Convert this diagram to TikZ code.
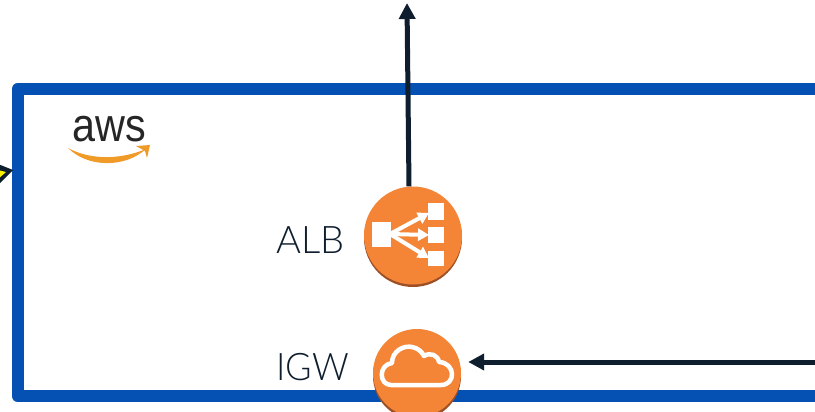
\documentclass[tikz,border=0pt]{standalone}
\usepackage{fontspec}
\setmainfont{Lato}[UprightFont=* Light]
\newfontfamily\logofont{Liberation Sans}
\usetikzlibrary{arrows.meta}
\definecolor{awsblue}{HTML}{0451B3}
\definecolor{awsnavy}{HTML}{0F1E2E}
\definecolor{awsorange}{HTML}{F58536}
\definecolor{awsbrown}{HTML}{9D5025}
\definecolor{smile}{HTML}{F09A28}
\tikzset{
  frame/.style={draw=awsblue,line width=12pt,line join=round},
  conn/.style={draw=awsnavy,line width=5pt,-{Triangle[length=16pt,width=16pt]}},
  disc/.style={circle,fill=awsorange,inner sep=0pt,minimum size=#1,draw=none},
  lab/.style={text=awsnavy,font=\fontsize{38}{40}\selectfont,inner sep=0pt},
  glyph/.style={fill=white,draw=none},
  ray/.style={draw=white,line width=4pt,-{Triangle[length=11pt,width=12pt]}}
}
\begin{document}
\begin{tikzpicture}[x=1pt,y=-1pt]
\useasboundingbox[fill=white] (0,0) rectangle (815,412);
\begin{scope}
\clip (0,0) rectangle (815,412);
% frame
\draw[frame] (815,89) -- (17.5,89) -- (17.5,396) -- (815,396);
% yellow arrow fragment
\fill[awsnavy] (-2,164) -- (13,170) -- (-2,185) -- cycle;
\fill[yellow] (-2,170) -- (6,172) -- (-2,179) -- cycle;
% shadows
\fill[awsbrown] (413,238) circle (49);
\fill[awsbrown] (417,376) circle (44);
% discs
\node[disc=98pt] (alb) at (413,235.5) {};
\node[disc=88pt] (igw) at (417,373) {};
% connectors
\coordinate (up) at (407,3);
\coordinate (rgt) at (815,362);
\draw[conn] (alb.north) ++(-4,0) -- (up);
\draw[conn,shorten >=7pt] (rgt) -- (igw.east |- rgt);
% ALB glyph
\fill[glyph] (372,222) rectangle (391,247);
\fill[glyph] (428,203) rectangle (444,220);
\fill[glyph] (428,227) rectangle (444,243);
\fill[glyph] (428,251) rectangle (444,266);
\draw[ray] (390,234) -- (429,213);
\draw[ray] (390,234) -- (429,235);
\draw[ray] (390,234) -- (429,258);
% IGW cloud
\draw[white,line width=4.5pt,line join=round]
  (391,385)
  .. controls (379,385) and (378,365) .. (392,363)
  .. controls (392,351) and (404,345) .. (412,347)
  .. controls (418,348) and (422,352) .. (424,356)
  .. controls (430,352) and (438,355) .. (439,362)
  .. controls (456,363) and (456,385) .. (441,385)
  -- cycle;
% labels
\node[lab,anchor=east] (alblab) at (345,240) {ALB};
\node[lab,anchor=east,transform shape,xscale=.95] (igwlab) at (349,367) {IGW};
% logo
\node[text=black!85,font=\logofont\fontsize{47}{49}\selectfont,inner sep=0pt,transform shape,xscale=.88] (aws) at (109,129) {aws};
\fill[smile] (68,148) .. controls (90,160) and (120,160) .. (146,149)
  .. controls (125,168) and (88,168) .. (68,148) -- cycle;
\fill[smile] (136,146) -- (150,145) -- (147,158) -- (145,151) -- cycle;
\end{scope}
\end{tikzpicture}
\end{document}
